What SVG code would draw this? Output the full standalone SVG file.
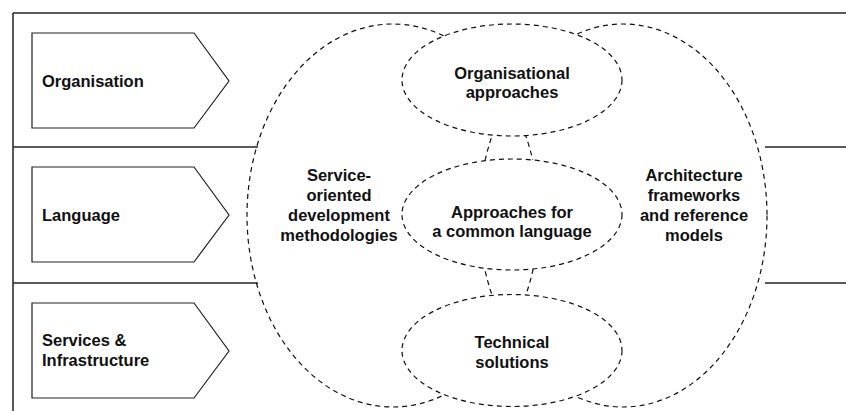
<svg xmlns="http://www.w3.org/2000/svg" width="846" height="411" viewBox="0 0 846 411">
<style>
.frame{fill:none;stroke:#222;stroke-width:1.5}
.chev{fill:#fff;stroke:#222;stroke-width:1.2}
.dash{fill:#fff;stroke:#111;stroke-width:1.2;stroke-dasharray:5 4}
.dashl{fill:none;stroke:#111;stroke-width:1.2;stroke-dasharray:5 4}
text{font-family:"Liberation Sans",Arial,Helvetica,sans-serif;font-weight:bold;font-size:16.5px;fill:#111}
.c{text-anchor:middle}
</style>
<rect width="846" height="411" fill="#fff"/>
<g id="frame">
<line class="frame" x1="13" y1="13" x2="846" y2="13"/>
<line class="frame" x1="13" y1="13" x2="13" y2="411"/>
<line class="frame" x1="13" y1="147" x2="258" y2="147"/>
<line class="frame" x1="13" y1="283" x2="258" y2="283"/>
<line class="frame" x1="765" y1="147" x2="846" y2="147"/>
<line class="frame" x1="765" y1="283" x2="846" y2="283"/>
</g>
<g id="organisation">
<polygon class="chev" points="32,33 194,33 229,81 194,128 32,128"/>
<text x="42" y="87">Organisation</text>
</g>
<g id="language">
<polygon class="chev" points="32,167 194,167 229,215 194,262 32,262"/>
<text x="42" y="221">Language</text>
</g>
<g id="services">
<polygon class="chev" points="32,303 194,303 229,351 194,398 32,398"/>
<text x="42" y="346">Services &amp;</text>
<text x="42" y="365.5">Infrastructure</text>
</g>
<g id="soa-methodologies">
<ellipse class="dashl" cx="393" cy="215.5" rx="146" ry="191.5"/>
<text class="c" x="339" y="181">Service-</text>
<text class="c" x="339" y="201">oriented</text>
<text class="c" x="339" y="221">development</text>
<text class="c" x="339" y="241">methodologies</text>
</g>
<g id="architecture-frameworks">
<ellipse class="dashl" cx="623" cy="215.5" rx="144" ry="191.5"/>
<text class="c" x="694" y="181">Architecture</text>
<text class="c" x="694" y="201">frameworks</text>
<text class="c" x="694" y="221">and reference</text>
<text class="c" x="694" y="241">models</text>
</g>
<g id="organisational-approaches">
<ellipse class="dash" cx="512" cy="80" rx="110" ry="56"/>
<text class="c" x="512" y="79">Organisational</text>
<text class="c" x="512" y="98">approaches</text>
</g>
<g id="common-language">
<ellipse class="dash" cx="512" cy="214.5" rx="110" ry="55.5"/>
<text class="c" x="512" y="218">Approaches for</text>
<text class="c" x="512" y="237">a common language</text>
</g>
<g id="technical-solutions">
<ellipse class="dash" cx="512" cy="350.5" rx="110" ry="56"/>
<text class="c" x="512" y="348">Technical</text>
<text class="c" x="512" y="368">solutions</text>
</g>
<g id="connectors"/>
</svg>
